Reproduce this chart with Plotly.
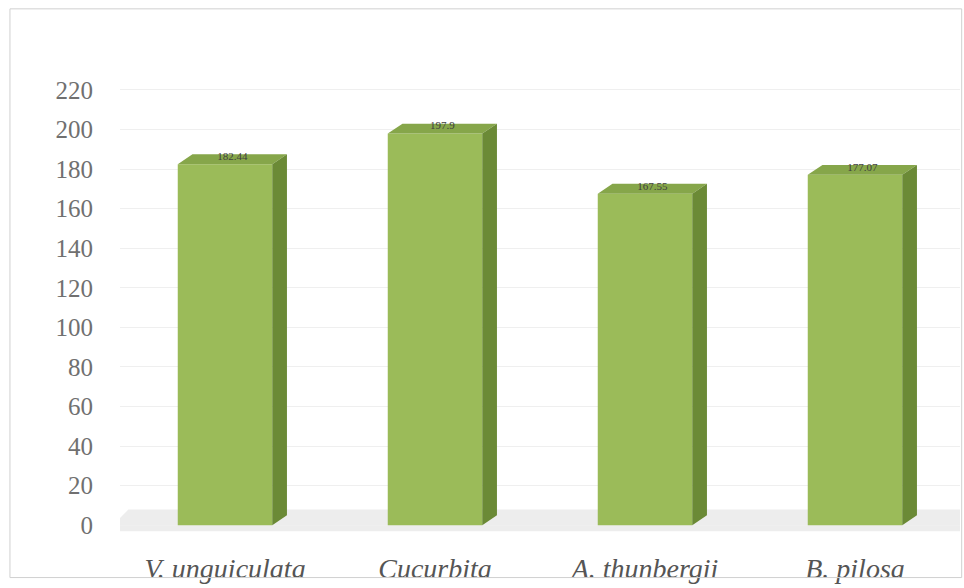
import plotly.graph_objects as go

categories = ["V. unguiculata", "Cucurbita", "A. thunbergii", "B. pilosa"]
values = [182.44, 197.9, 167.55, 177.07]
value_labels = ["182.44", "197.9", "167.55", "177.07"]
y_ticks = [0, 20, 40, 60, 80, 100, 120, 140, 160, 180, 200, 220]

front_color = "#9bbb59"
top_color = "#86a64a"
side_color = "#6b8a36"
bar_w = 0.45
dx = 0.07   # depth offset in category units
dy = 5.0    # depth offset in value units

xs = list(range(len(categories)))

fig = go.Figure()

# floor slab
fig.add_shape(type="path",
              path="M -0.56,-3 L 3.5,-3 L 3.5,8 L -0.46,8 Z",
              xref="x", yref="y", fillcolor="#ededed", line=dict(width=0), layer="below")

# front faces
fig.add_trace(go.Bar(x=xs, y=values, width=bar_w, marker=dict(color=front_color, line=dict(width=0)),
                     hoverinfo="skip", showlegend=False))

# top & side faces derived from data
top_x, top_y, side_x, side_y = [], [], [], []
for i, v in zip(xs, values):
    l, r = i - bar_w / 2, i + bar_w / 2
    top_x += [l, r, r + dx, l + dx, l, None]
    top_y += [v, v, v + dy, v + dy, v, None]
    side_x += [r, r + dx, r + dx, r, r, None]
    side_y += [0, dy, v + dy, v, 0, None]

fig.add_trace(go.Scatter(x=top_x, y=top_y, fill="toself", fillcolor=top_color, mode="lines",
                         line=dict(width=0, color=top_color), hoverinfo="skip", showlegend=False))
fig.add_trace(go.Scatter(x=side_x, y=side_y, fill="toself", fillcolor=side_color, mode="lines",
                         line=dict(width=0, color=side_color), hoverinfo="skip", showlegend=False))

# data labels
fig.add_trace(go.Scatter(x=[i + dx / 2 for i in xs], y=[v + dy / 2 + 1 for v in values],
                         mode="text", text=value_labels, textposition="middle center",
                         textfont=dict(family="Liberation Serif", size=11, color="#404040"),
                         hoverinfo="skip", showlegend=False, cliponaxis=False))

# outer frame
fig.add_shape(type="rect", xref="paper", yref="paper", x0=-0.131, x1=1.002, y0=-0.070, y1=1.153,
              line=dict(color="#d0d0d0", width=1), fillcolor="rgba(0,0,0,0)")

fig.update_layout(
    width=964, height=588,
    margin=dict(l=120, r=4, t=80, b=38),
    paper_bgcolor="white", plot_bgcolor="white",
    bargap=0.55,
    xaxis=dict(range=[-0.5, 3.5], tickvals=xs,
               ticktext=["<i>%s</i>" % c for c in categories],
               tickfont=dict(family="Liberation Serif, Times New Roman, serif", size=28, color="#555555"),
               showgrid=False, zeroline=False, showline=False, ticks="", ticklabelstandoff=4),
    yaxis=dict(range=[-10, 225], tickvals=y_ticks,
               tickfont=dict(family="Liberation Serif, Times New Roman, serif", size=25, color="#707070"),
               showgrid=True, gridcolor="#efefef", gridwidth=1, zeroline=False,
               showline=False, ticks="", ticklabelstandoff=26),
)

fig.write_html("out.html")
